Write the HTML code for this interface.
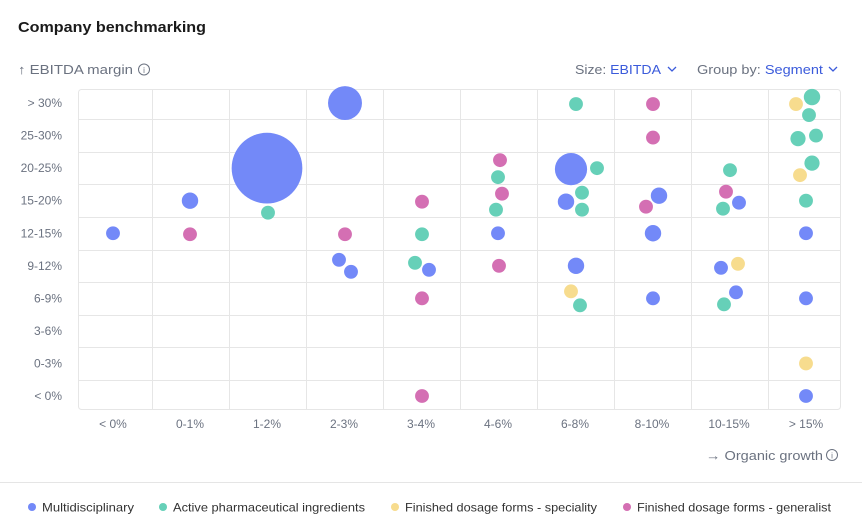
<!DOCTYPE html>
<html><head><meta charset="utf-8">
<style>
body{margin:0;background:#fff;font-family:"Liberation Sans",sans-serif;}
svg{display:block}
text{font-family:"Liberation Sans",sans-serif}
</style></head>
<body>
<svg id="chart" width="862" height="523" viewBox="0 0 862 523" xmlns="http://www.w3.org/2000/svg">
<text x="18" y="32" font-size="15" font-weight="bold" fill="#1a1a1a" textLength="188" lengthAdjust="spacingAndGlyphs">Company benchmarking</text>
<text x="18" y="74" font-size="13" fill="#6b7280" textLength="115" lengthAdjust="spacingAndGlyphs">↑ EBITDA margin</text>
<g><circle cx="144" cy="69.5" r="5.5" fill="none" stroke="#6b7280" stroke-width="1"/><text x="144" y="73" font-size="8" text-anchor="middle" fill="#6b7280">i</text></g>
<g><text x="575" y="74" font-size="13" fill="#6b7280" textLength="86" lengthAdjust="spacingAndGlyphs">Size: <tspan fill="#3b5bdb">EBITDA</tspan></text><path d="M668 67 l4 4 l4 -4" fill="none" stroke="#3b5bdb" stroke-width="1.3"/></g>
<g><text x="697" y="74" font-size="13" fill="#6b7280" textLength="126" lengthAdjust="spacingAndGlyphs">Group by: <tspan fill="#3b5bdb">Segment</tspan></text><path d="M829 67 l4 4 l4 -4" fill="none" stroke="#3b5bdb" stroke-width="1.3"/></g>
<rect x="78.5" y="89.5" width="762" height="320" rx="3" fill="#fff" stroke="#e6e6e6"/>
<g id="grid"></g>
<g id="yticks"></g>
<g id="xticks"></g>
<g id="bubbles"></g>
<text x="706" y="460" font-size="13" fill="#6b7280" textLength="117" lengthAdjust="spacingAndGlyphs">→ Organic growth</text>
<g><circle cx="832" cy="455" r="5.5" fill="none" stroke="#6b7280" stroke-width="1"/><text x="832" y="458.5" font-size="8" text-anchor="middle" fill="#6b7280">i</text></g>
<line x1="0" y1="482.5" x2="862" y2="482.5" stroke="#e5e5e5"/>
<g id="legend"></g>
</svg>
<script>
const xCategories=["< 0%","0-1%","1-2%","2-3%","3-4%","4-6%","6-8%","8-10%","10-15%","> 15%"];
const yCategories=["< 0%","0-3%","3-6%","6-9%","9-12%","12-15%","15-20%","20-25%","25-30%","> 30%"];
const segments=["Multidisciplinary","Active pharmaceutical ingredients","Finished dosage forms - speciality","Finished dosage forms - generalist"];
const segColors=["#7389f8","#66d0b8","#f7dc8e","#d46fb3"];
// companies: segment index, x category, y category, EBITDA size, jitter dx, jitter dy
const compSegment=[0,0,0,0,0,0,0,0,0,0,0,0,0,0,0,0,0,0,0,0, 1,1,1,1,1,1,1,1,1,1,1,1,1,1,1,1,1,1,1, 2,2,2,2,2, 3,3,3,3,3,3,3,3,3,3,3,3];
const compX=[0,1,2,3,3,3,4,5,6,6,6,7,7,7,8,8,8,9,9,9, 2,4,4,5,5,6,6,6,6,6,8,8,8,9,9,9,9,9,9, 6,8,9,9,9, 1,3,4,4,4,5,5,5,7,7,7,8];
const compY=[5,6,7,9,4,4,4,5,7,6,4,6,5,3,6,4,3,5,3,0, 6,5,4,7,6,9,7,6,6,3,7,6,3,9,9,8,8,7,6, 3,4,9,7,1, 5,5,6,3,0,7,6,4,9,8,6,6];
const compSize=[5,7,130,30,5,5,5,5,27,7,7,7,7,5,5,5,5,5,5,5, 5,5,5,5,5,5,5,5,5,5,5,5,5,7,5,6,5,6,5, 5,5,5,5,5, 5,5,5,5,5,5,5,5,5,5,5,5];
const compDx=[0,0,0,1,-5,7,8,0,-4,-9,1,7,1,1,10,-8,7,0,0,0, 1,1,-6,0,-2,1,22,7,7,5,1,-6,-5,6,3,-8,10,6,0, -4,9,-10,-6,0, 0,1,1,1,1,2,4,1,1,1,-6,-3];
const compDy=[0,0,0,0,-6,6,4,0,1,1,0,-5,0,0,2,2,-6,0,0,0, 12,1,-3,9,9,1,0,-8,9,7,2,8,6,-6,12,3,0,-5,0, -7,-2,1,7,0, 1,1,1,0,0,-8,-7,0,1,2,6,-9];

const NS="http://www.w3.org/2000/svg";
function xScale(i){return 113+77*i;}
function yScale(j){return 396-32.55*j;}
function rScale(s){return 3.1*Math.sqrt(s);}
function mk(tag,attrs,parent){const e=document.createElementNS(NS,tag);for(const k in attrs)e.setAttribute(k,attrs[k]);parent.appendChild(e);return e;}

const grid=document.getElementById('grid');
for(let i=0;i<xCategories.length-1;i++){
  const x=Math.round(xScale(i)+38.5)+0.5;
  const l=mk('line',{x1:x,y1:90,x2:x,y2:409,stroke:'#e6e6e6'},grid);
  
  
}
for(let j=0;j<yCategories.length-1;j++){
  const y=Math.round(yScale(j)-16.3)+0.5;
  const l=mk('line',{x1:79,y1:y,x2:840,y2:y,stroke:'#e6e6e6'},grid);
  
  
}
const yt=document.getElementById('yticks');
yCategories.forEach((c,j)=>{
  const t=mk('text',{x:62,y:yScale(j)+4,'font-size':12,'text-anchor':'end',fill:'#6b7280'},yt);
  t.textContent=c;
  
  
});
const xt=document.getElementById('xticks');
xCategories.forEach((c,i)=>{
  const t=mk('text',{x:xScale(i),y:428,'font-size':12,'text-anchor':'middle',fill:'#6b7280'},xt);
  t.textContent=c;
  
  
});
const bg=document.getElementById('bubbles');
compSegment.forEach((s,k)=>{
  const c=mk('circle',{cx:xScale(compX[k])+compDx[k],cy:yScale(compY[k])+compDy[k],r:rScale(compSize[k]),fill:segColors[s]},bg);
  
  
});
const lg=document.getElementById('legend');
const lx=[32,163,395,627];
const lw=[92,192,192,194];
segments.forEach((s,i)=>{
  const g=mk('g',{},lg);
  
  
  mk('circle',{cx:lx[i],cy:507,r:4,fill:segColors[i]},g);
  const t=mk('text',{x:lx[i]+10,y:511.5,'font-size':12,fill:'#333',textLength:lw[i],lengthAdjust:'spacingAndGlyphs'},g);
  t.textContent=s;
});
</script>
</body></html>
